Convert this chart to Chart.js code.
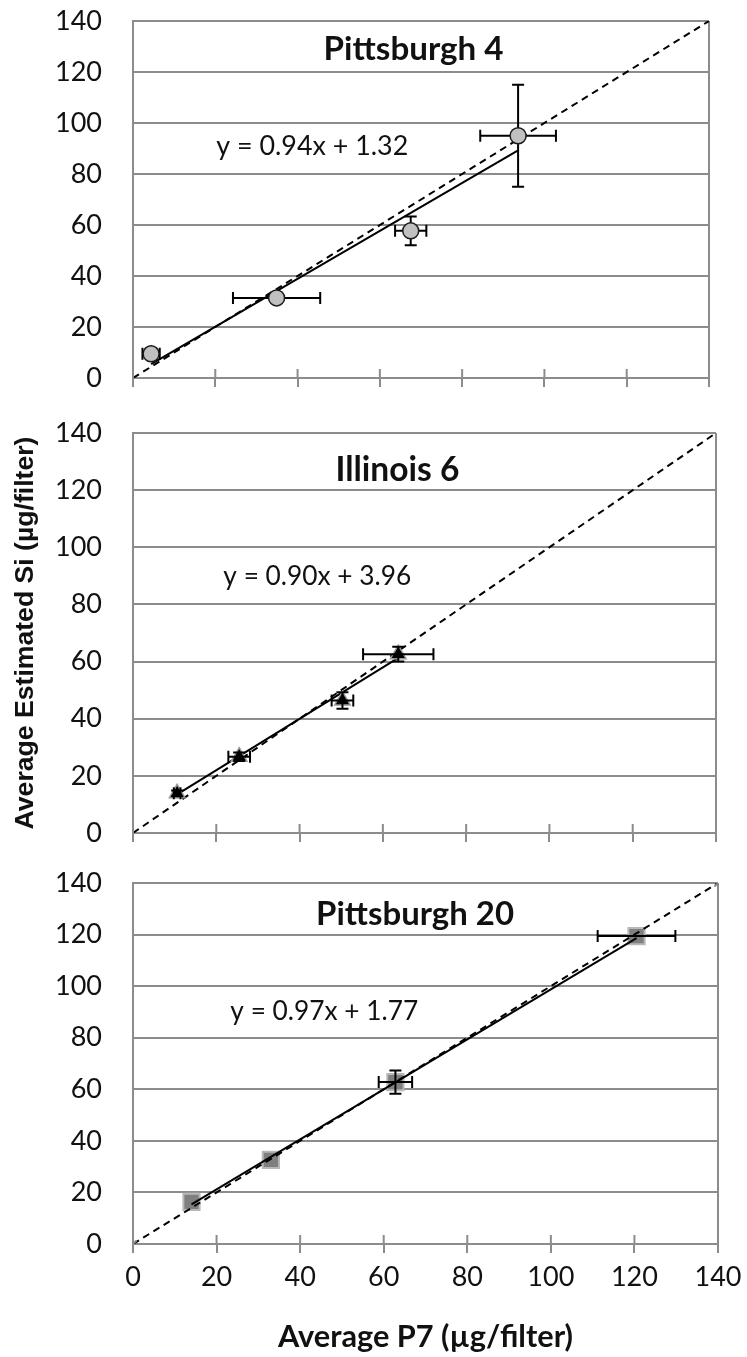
<!DOCTYPE html>
<html>
<head>
<meta charset="utf-8">
<script src="https://cdn.jsdelivr.net/npm/chart.js@4.4.1/dist/chart.umd.min.js"></script>
<style>
  html, body { margin: 0; padding: 0; background: #fff; }
  #wrap { position: relative; width: 747px; height: 1357px; }
  canvas { position: absolute; left: 0; }
</style>
</head>
<body>
<div id="wrap">
  <canvas id="c1" width="747" height="400" style="top:0"></canvas>
  <canvas id="c2" width="747" height="460" style="top:400px"></canvas>
  <canvas id="c3" width="747" height="497" style="top:860px"></canvas>
</div>
<script>
// Datos
const xTicks = [0, 20, 40, 60, 80, 100, 120, 140];
const yTicks = [0, 20, 40, 60, 80, 100, 120, 140];
const oneToOne = [0, 140];

const titles = ["Pittsburgh 4", "Illinois 6", "Pittsburgh 20"];
const slopes = [0.94, 0.90, 0.97];
const intercepts = [1.32, 3.96, 1.77];

// Pittsburgh 4
const pitt4X = [4.4, 34.9, 67.5, 93.6];
const pitt4Y = [9.5, 31.4, 57.7, 95.0];
const pitt4XErr = [2.1, 10.6, 3.8, 9.2];
const pitt4YErr = [1.0, 0, 5.6, 20.0];

// Illinois 6
const ill6X = [10.6, 25.5, 50.3, 63.7];
const ill6Y = [13.9, 26.7, 46.4, 62.6];
const ill6XErr = [0.8, 2.6, 2.6, 8.45];
const ill6YErr = [1.0, 1.5, 2.9, 2.6];

// Pittsburgh 20
const pitt20X = [14.0, 33.0, 62.8, 120.5];
const pitt20Y = [16.3, 32.6, 62.8, 119.4];
const pitt20XErr = [0, 0, 4.0, 9.3];
const pitt20YErr = [0, 0, 4.5, 0];

// Posición de los textos (unidades de datos: centro / inicio, línea base)
const titlePos = [[68.2, 124.7], [63.5, 123.3], [67.5, 123.7]];
const eqPos = [[20.25, 87.45], [21.7, 86.8], [23.3, 86.7]];

// Estilo
const GRID = "#8c8c8c";
const FONT = "Lato, 'Open Sans', sans-serif";
const TITLE_W = [180, 124, 198];
const EQ_W = [192, 188, 188];

const measureCtx = document.createElement("canvas").getContext("2d");
function fitSize(text, weight, family, width) {
  measureCtx.font = `${weight} 100px ${family}`;
  return 100 * width / measureCtx.measureText(text).width;
}

const xTitleText = "Average P7 (µg/filter)";
const yTitleText = "Average Estimated Si (µg/filter)";
const yTitleFamily = "'Liberation Sans', Arial, sans-serif";
const xTitleSize = fitSize(xTitleText, "bold", FONT, 295);
const yTitleSize = fitSize(yTitleText, "bold", yTitleFamily, 393);

// Barras de error, marcas del eje y textos
const panelDecor = {
  id: "panelDecor",
  beforeDatasetsDraw(chart, args, opts) {
    if (!opts.barsOnTop) drawErrorBars(chart, opts);
  },
  afterDatasetsDraw(chart, args, opts) {
    if (opts.barsOnTop) drawErrorBars(chart, opts);
  },
  afterDraw(chart, args, opts) {
    const { ctx } = chart;
    const xs = chart.scales.x, ys = chart.scales.y;
    ctx.save();
    // parte interior de las marcas del eje X
    ctx.strokeStyle = GRID;
    ctx.lineWidth = 2;
    xTicks.forEach(v => {
      const px = xs.getPixelForValue(v);
      ctx.beginPath();
      ctx.moveTo(px, ys.bottom);
      ctx.lineTo(px, ys.bottom - 9);
      ctx.stroke();
    });
    ctx.fillStyle = "#111";
    ctx.textBaseline = "alphabetic";
    ctx.textAlign = "center";
    ctx.font = `bold ${fitSize(opts.title, "bold", FONT, opts.titleW)}px ${FONT}`;
    ctx.fillText(opts.title, xs.getPixelForValue(opts.titleAt[0]), ys.getPixelForValue(opts.titleAt[1]));
    ctx.textAlign = "left";
    ctx.font = `${fitSize(opts.equation, "normal", FONT, opts.eqW)}px ${FONT}`;
    ctx.fillText(opts.equation, xs.getPixelForValue(opts.eqAt[0]), ys.getPixelForValue(opts.eqAt[1]));
    ctx.restore();
  }
};

function drawErrorBars(chart, opts) {
  const { ctx } = chart;
  const xs = chart.scales.x, ys = chart.scales.y;
  const cap = 6;
  ctx.save();
  ctx.strokeStyle = "#000";
  ctx.lineWidth = 2;
  opts.xs.forEach((xv, i) => {
    const yv = opts.ys[i];
    const px = xs.getPixelForValue(xv), py = ys.getPixelForValue(yv);
    const ex = opts.xErr[i], ey = opts.yErr[i];
    ctx.beginPath();
    if (ex > 0) {
      const l = xs.getPixelForValue(xv - ex), r = xs.getPixelForValue(xv + ex);
      ctx.moveTo(l, py); ctx.lineTo(r, py);
      ctx.moveTo(l, py - cap); ctx.lineTo(l, py + cap);
      ctx.moveTo(r, py - cap); ctx.lineTo(r, py + cap);
    }
    if (ey > 0) {
      const t = ys.getPixelForValue(yv + ey), b = ys.getPixelForValue(yv - ey);
      ctx.moveTo(px, t); ctx.lineTo(px, b);
      ctx.moveTo(px - cap, t); ctx.lineTo(px + cap, t);
      ctx.moveTo(px - cap, b); ctx.lineTo(px + cap, b);
    }
    ctx.stroke();
  });
  ctx.restore();
}

const toPoints = (xs, ys) => xs.map((x, i) => ({ x, y: ys[i] }));

// recta de ajuste entre el primer y el último punto
function fitLine(xs, i) {
  const x0 = Math.min(...xs), x1 = Math.max(...xs);
  return [
    { x: x0, y: slopes[i] * x0 + intercepts[i] },
    { x: x1, y: slopes[i] * x1 + intercepts[i] }
  ];
}

function makePanel(id, cfg) {
  const i = cfg.index;
  return new Chart(document.getElementById(id), {
    type: "scatter",
    data: {
      datasets: [
        {
          label: "datos",
          data: toPoints(cfg.xs, cfg.ys),
          showLine: false,
          pointStyle: cfg.pointStyle,
          pointRadius: cfg.pointRadius,
          backgroundColor: cfg.fill,
          borderColor: cfg.stroke,
          borderWidth: cfg.strokeWidth,
          order: cfg.pointOrder
        },
        {
          label: "ajuste",
          data: fitLine(cfg.xs, i),
          showLine: true,
          borderColor: "#000",
          borderWidth: 2,
          pointRadius: 0,
          order: 1
        },
        {
          label: "1:1",
          data: toPoints(oneToOne, oneToOne),
          showLine: true,
          borderColor: "#000",
          borderWidth: 2,
          borderDash: [7, 5],
          pointStyle: "crossRot",
          pointRadius: cfg.crossMarks ? 5 : 0,
          pointBorderColor: "#8a8a8a",
          pointBorderWidth: 2,
          order: 2
        }
      ]
    },
    options: {
      responsive: false,
      animation: false,
      layout: { padding: { top: cfg.padTop, right: cfg.padRight, left: 0, bottom: 0 } },
      plugins: {
        legend: { display: false },
        tooltip: { enabled: false },
        panelDecor: {
          xs: cfg.xs, ys: cfg.ys, xErr: cfg.xErr, yErr: cfg.yErr,
          barsOnTop: cfg.barsOnTop,
          title: titles[i],
          titleAt: titlePos[i],
          titleW: TITLE_W[i],
          equation: `y = ${slopes[i].toFixed(2)}x + ${intercepts[i].toFixed(2)}`,
          eqAt: eqPos[i],
          eqW: EQ_W[i]
        }
      },
      scales: {
        x: {
          type: "linear",
          min: 0,
          max: 140,
          afterBuildTicks: s => { s.ticks = xTicks.map(v => ({ value: v })); },
          afterFit: s => {
            s.height = cfg.xHeight;
            s.paddingLeft = 0; s.paddingRight = 0;
          },
          grid: {
            color: c => (c.tick && (c.tick.value === 0 || c.tick.value === 140)) ? GRID : "rgba(0,0,0,0)",
            tickColor: GRID,
            lineWidth: 2,
            tickLength: 9
          },
          border: { display: true, color: GRID, width: 2 },
          ticks: {
            display: cfg.showXLabels,
            color: "#111",
            padding: 8,
            maxRotation: 0,
            font: { family: FONT, size: 27 }
          },
          title: {
            display: cfg.showXLabels,
            text: xTitleText,
            color: "#111",
            padding: { top: 0, bottom: 20.3 - xTitleSize * 0.6 },
            font: { family: FONT, size: xTitleSize, weight: "bold" }
          }
        },
        y: {
          type: "linear",
          min: 0,
          max: 140,
          afterBuildTicks: s => { s.ticks = yTicks.map(v => ({ value: v })); },
          afterFit: s => {
            s.width = 133;
            s.paddingTop = 0; s.paddingBottom = 0;
          },
          grid: { color: GRID, lineWidth: 2, drawTicks: false },
          border: { color: GRID, width: 2 },
          ticks: {
            color: "#111",
            padding: 31,
            font: { family: FONT, size: 27 }
          },
          title: {
            display: cfg.showYTitle,
            text: yTitleText,
            color: "#111",
            padding: { top: 26 - yTitleSize * 0.6, bottom: 0 },
            font: { family: yTitleFamily, size: yTitleSize, weight: "bold" }
          }
        }
      }
    },
    plugins: [panelDecor]
  });
}

makePanel("c1", {
  index: 0,
  xs: pitt4X, ys: pitt4Y, xErr: pitt4XErr, yErr: pitt4YErr,
  pointStyle: "circle", pointRadius: 8, fill: "#c0c0c0", stroke: "#1a1a1a", strokeWidth: 1.5,
  pointOrder: 0, barsOnTop: false, crossMarks: false,
  padTop: 21, padRight: 38, xHeight: 22, showXLabels: false, showYTitle: false
});

makePanel("c2", {
  index: 1,
  xs: ill6X, ys: ill6Y, xErr: ill6XErr, yErr: ill6YErr,
  pointStyle: "triangle", pointRadius: 9, fill: "#000", stroke: "#9a9a9a", strokeWidth: 1.5,
  pointOrder: 0, barsOnTop: true, crossMarks: false,
  padTop: 33, padRight: 31, xHeight: 27, showXLabels: false, showYTitle: true
});

makePanel("c3", {
  index: 2,
  xs: pitt20X, ys: pitt20Y, xErr: pitt20XErr, yErr: pitt20YErr,
  pointStyle: "rect", pointRadius: 11.5, fill: "#7f7f7f", stroke: "#b8b8b8", strokeWidth: 2,
  pointOrder: 3, barsOnTop: true, crossMarks: true,
  padTop: 23, padRight: 29, xHeight: 113, showXLabels: true, showYTitle: false
});
</script>
</body>
</html>
